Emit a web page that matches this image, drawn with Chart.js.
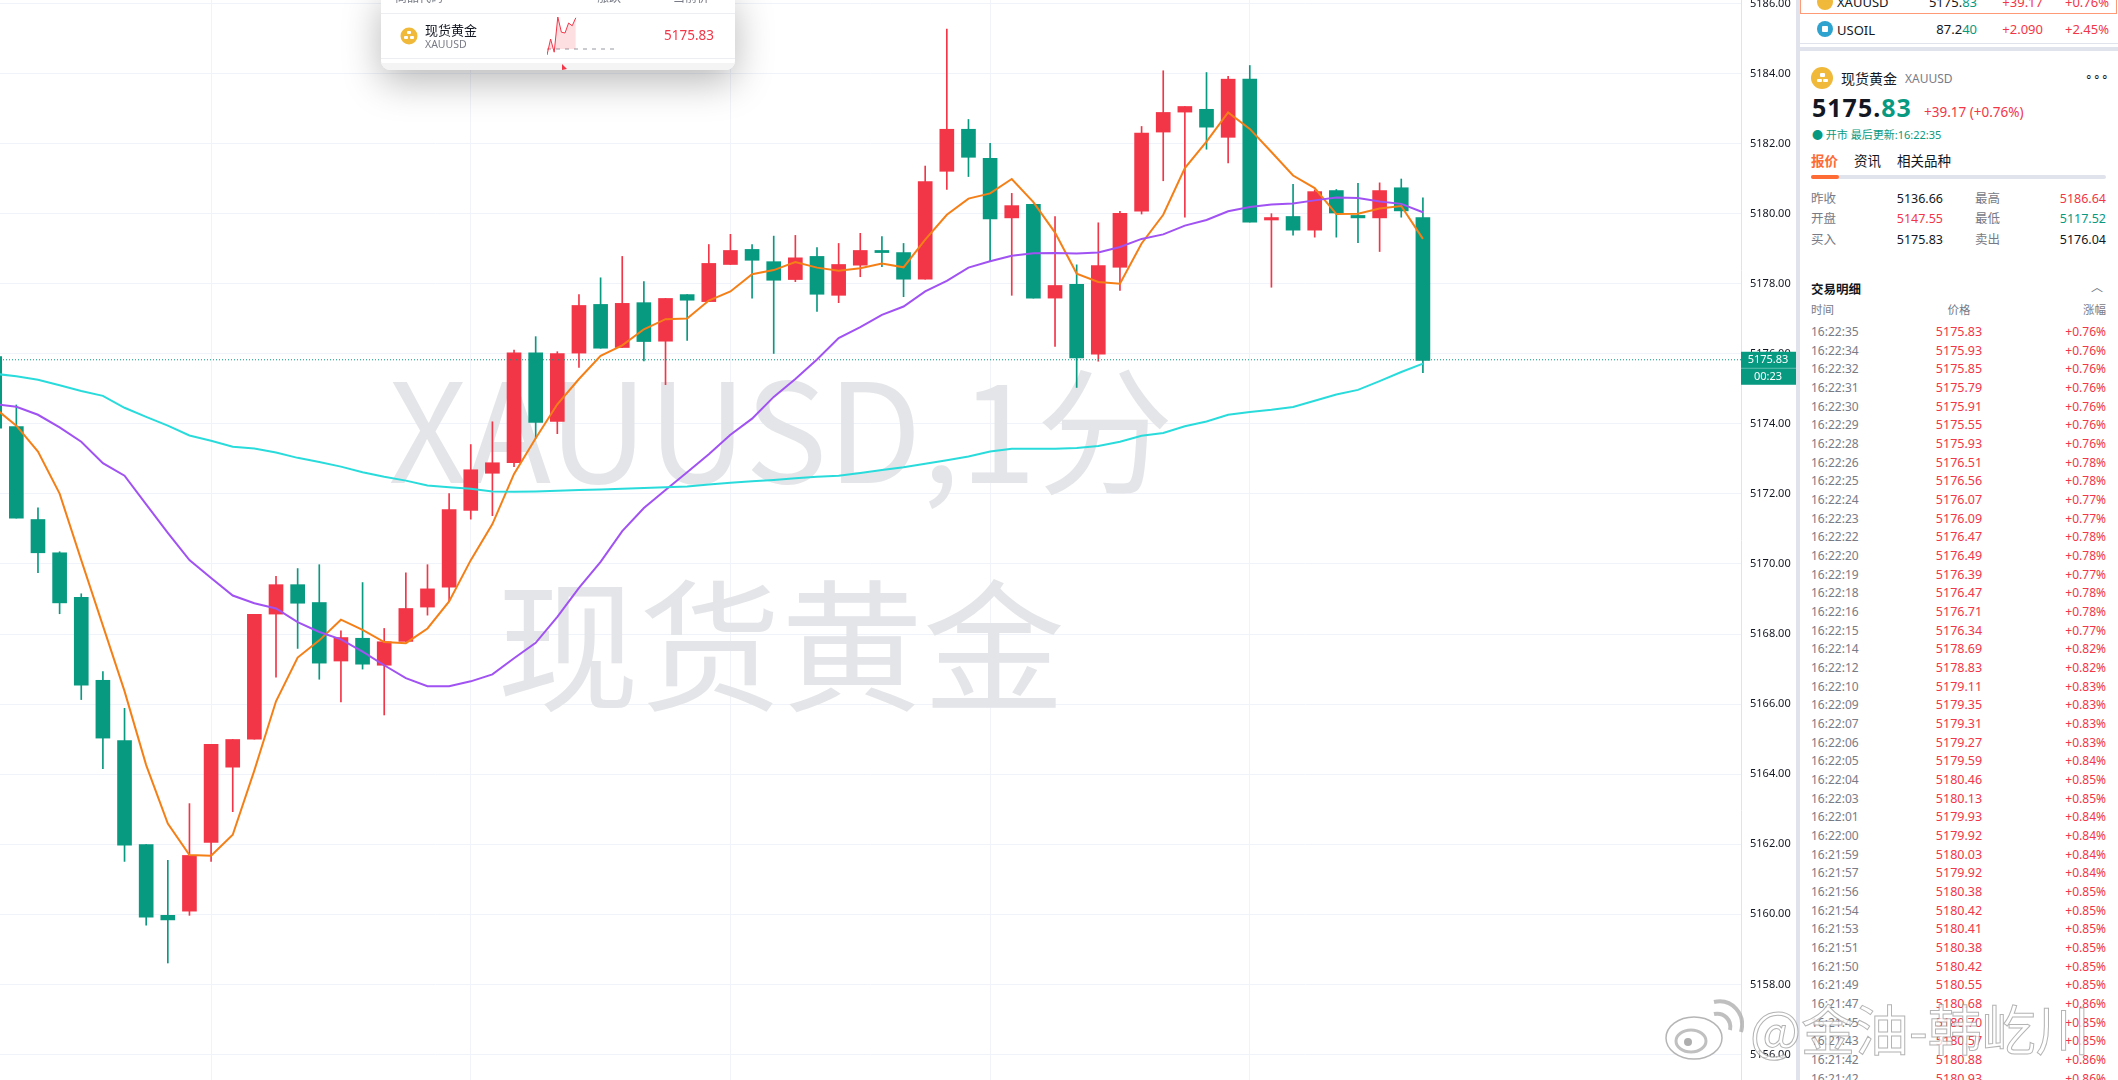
<!DOCTYPE html>
<html>
<head>
<meta charset="utf-8">
<title>XAUUSD</title>
<script src="https://cdn.jsdelivr.net/npm/chart.js@4"></script>
<style>
  html, body { margin: 0; padding: 0; background: #fff; overflow: hidden; }
  body { width: 2118px; height: 1080px; position: relative; font-family: "Noto Sans CJK SC", "Noto Sans", sans-serif; }
  #mainChart { position: absolute; left: 0; top: 0; }
  .t { position: absolute; white-space: nowrap; line-height: 1; transform: translateY(-50%); font-family: "Noto Sans", "Noto Sans CJK SC", sans-serif; }
  .r { transform: translate(-100%, -50%); }
  .c { transform: translate(-50%, -50%); }
  .red { color: #f23648; }
  .teal { color: #089981; }
  .grey { color: #787b86; }
  .dark { color: #131722; }
  .box { position: absolute; }
  .dot { position: absolute; border-radius: 50%; transform: translate(-50%, -50%); }
  .bar { position: absolute; background: #fff; border-radius: 1px; }
  #popup { position: absolute; left: 381px; top: -10px; width: 354px; height: 80px; background: #fff; border-radius: 0 0 9px 9px; box-shadow: 0 12px 38px rgba(0,0,0,.28); overflow: hidden; }
  #panel { position: absolute; left: 1796px; top: 0; width: 322px; height: 1080px; background: #fff; overflow: hidden; border-left: 4px solid #e0e3eb; box-sizing: border-box; }
  #sparkChart { position: absolute; left: 166px; top: 25px; }
  #stamp { position: absolute; left: 1750px; top: 1028px; font-size: 54px; line-height: 1; transform: translateY(-50%); white-space: nowrap; color: rgba(255,255,255,.78); -webkit-text-stroke: 1px rgba(140,140,140,.65); font-family: "Noto Sans CJK SC", sans-serif; }
</style>
</head>
<body>
<canvas id="mainChart" width="1796" height="1080"></canvas>

<!-- symbol popup at the top of the chart -->
<div id="popup">
  <div class="t grey" style="left:14px;top:8px;font-size:12px">商品代码</div>
  <div class="t grey" style="left:216px;top:8px;font-size:12px">涨跌</div>
  <div class="t grey" style="left:292px;top:8px;font-size:12px">当前价</div>
  <div class="box" style="left:0;top:23px;width:354px;height:1px;background:#eceef2"></div>
  <div class="dot" style="left:28px;top:46px;width:17px;height:17px;background:#f0b93a"></div>
  <div class="bar" style="left:26px;top:41px;width:4px;height:3px"></div>
  <div class="bar" style="left:23px;top:46px;width:4px;height:3px"></div>
  <div class="bar" style="left:29px;top:46px;width:4px;height:3px"></div>
  <div class="t dark" style="left:44px;top:40px;font-size:13px">现货黄金</div>
  <div class="t grey" style="left:44px;top:54px;font-size:10.5px">XAUUSD</div>
  <canvas id="sparkChart" width="72" height="42"></canvas>
  <div class="t r red" style="left:333px;top:46px;font-size:13.5px">5175.83</div>
  <div class="box" style="left:0;top:68px;width:354px;height:1px;background:#eceef2"></div>
  <div class="box" style="left:0;top:73px;width:354px;height:7px;background:#f4f4f5"></div>
  <div class="box" style="left:181px;top:74px;width:0;height:0;border-left:5px solid #f23648;border-top:5px solid transparent;border-bottom:1px solid transparent"></div>
</div>

<!-- quote panel on the right -->
<div id="panel"></div>

<div id="stamp">@金油-韩屹川</div>
<svg class="box" style="left:1664px;top:998px" width="80" height="64" viewBox="0 0 80 64">
  <ellipse cx="30" cy="40" rx="28" ry="21" fill="rgba(255,255,255,.8)" stroke="rgba(150,150,150,.7)" stroke-width="1.5"/>
  <ellipse cx="27" cy="43" rx="15" ry="11" fill="none" stroke="rgba(150,150,150,.6)" stroke-width="3"/>
  <circle cx="24" cy="44" r="4" fill="rgba(140,140,140,.7)"/>
  <path d="M50 16 C60 14 68 22 66 32" fill="none" stroke="rgba(170,170,170,.75)" stroke-width="4"/>
  <path d="M50 4 C68 0 82 16 77 34" fill="none" stroke="rgba(170,170,170,.75)" stroke-width="4"/>
</svg>

<script>
// Candles, one per minute, oldest first
const opens = [5175.92,5173.92,5171.27,5170.32,5169.05,5166.68,5164.96,5161.99,5159.97,5160.09,5162.05,5164.2,5165.0,5168.57,5169.41,5168.9,5167.23,5167.88,5167.11,5167.79,5168.77,5169.34,5171.53,5172.59,5172.89,5176.03,5174.07,5176.02,5177.41,5176.18,5177.46,5176.36,5177.69,5177.49,5178.55,5178.98,5178.63,5178.12,5178.78,5177.67,5178.53,5178.95,5178.89,5178.13,5181.21,5182.41,5181.58,5179.88,5180.27,5177.59,5177.98,5175.99,5178.47,5180.07,5182.33,5182.9,5182.98,5182.18,5183.84,5179.82,5179.92,5179.53,5180.66,5179.95,5179.88,5180.74,5179.89];
const highs = [5175.95,5174.54,5171.6,5170.35,5169.15,5166.93,5165.88,5161.99,5161.54,5163.16,5164.85,5164.99,5168.56,5169.65,5169.87,5169.98,5168.09,5169.47,5168.16,5169.75,5169.98,5172.01,5173.41,5174.06,5176.11,5176.49,5176.06,5177.69,5178.17,5178.78,5178.06,5177.58,5177.69,5179.12,5179.41,5179.12,5179.36,5179.38,5179.03,5179.15,5179.44,5179.35,5179.15,5181.36,5185.27,5182.69,5182.01,5180.58,5180.27,5179.92,5178.54,5179.74,5180.07,5182.49,5184.08,5183.06,5184.03,5183.92,5184.23,5180.0,5180.84,5180.68,5180.69,5180.87,5180.88,5180.99,5180.45];
const lows = [5173.88,5171.31,5169.75,5168.58,5166.13,5164.16,5161.51,5159.69,5158.61,5159.97,5161.51,5162.93,5165.0,5166.77,5167.59,5166.71,5166.06,5167.0,5165.69,5167.79,5168.54,5168.93,5171.28,5171.38,5172.78,5173.59,5173.72,5175.61,5176.16,5176.18,5175.8,5175.12,5176.38,5177.49,5178.55,5177.59,5176.01,5178.06,5177.21,5177.46,5178.2,5178.49,5177.63,5178.13,5180.69,5181.06,5178.64,5177.67,5177.59,5176.21,5175.04,5175.79,5177.81,5179.99,5180.94,5179.9,5181.84,5181.45,5179.76,5177.9,5179.39,5179.33,5179.33,5179.17,5178.92,5179.9,5175.46];
const closes = [5173.88,5171.31,5170.32,5168.89,5166.54,5165.03,5161.97,5159.92,5159.84,5161.68,5164.85,5164.99,5168.56,5169.41,5168.88,5167.17,5167.9,5167.14,5167.78,5168.73,5169.29,5171.55,5172.69,5172.89,5176.03,5174.04,5176.01,5177.38,5176.16,5177.44,5176.35,5177.58,5177.53,5178.58,5178.95,5178.67,5178.1,5178.74,5177.7,5178.55,5178.95,5178.89,5178.13,5180.92,5182.41,5181.61,5179.85,5180.23,5177.59,5177.95,5175.88,5178.52,5180.01,5182.3,5182.89,5183.06,5182.47,5183.84,5179.76,5179.89,5179.53,5180.63,5180.02,5179.88,5180.66,5180.08,5175.81];

// Moving averages
const maFast = [5174.45,5173.95,5173.21,5172.01,5170.11,5168.24,5166.37,5164.26,5162.59,5161.69,5161.67,5162.27,5164.11,5166.08,5167.33,5167.82,5168.41,5168.12,5167.77,5167.74,5168.16,5168.93,5170.11,5171.14,5172.57,5173.59,5174.56,5175.28,5175.94,5176.24,5176.7,5176.99,5177.01,5177.52,5177.78,5178.27,5178.39,5178.62,5178.46,5178.37,5178.44,5178.58,5178.47,5179.26,5179.97,5180.43,5180.58,5180.99,5180.33,5179.46,5178.29,5178.05,5178.0,5179.15,5179.97,5181.3,5182.06,5182.89,5182.42,5181.76,5181.09,5180.73,5179.99,5180.0,5180.15,5180.22,5179.28];
const maMid = [5174.56,5174.49,5174.26,5173.9,5173.49,5172.88,5172.52,5171.7,5170.89,5170.11,5169.6,5169.1,5168.88,5168.73,5168.34,5168.06,5167.85,5167.5,5167.11,5166.74,5166.51,5166.51,5166.65,5166.85,5167.31,5167.75,5168.49,5169.32,5170.06,5170.94,5171.6,5172.11,5172.62,5173.13,5173.69,5174.15,5174.77,5175.28,5175.84,5176.45,5176.76,5177.11,5177.35,5177.78,5178.08,5178.46,5178.64,5178.8,5178.87,5178.88,5178.86,5178.89,5179.05,5179.28,5179.41,5179.66,5179.82,5180.07,5180.19,5180.26,5180.29,5180.38,5180.46,5180.45,5180.35,5180.28,5180.04];
const maSlow = [5175.43,5175.36,5175.26,5175.1,5174.94,5174.8,5174.46,5174.2,5173.95,5173.67,5173.52,5173.35,5173.3,5173.18,5173.03,5172.91,5172.78,5172.62,5172.49,5172.38,5172.24,5172.19,5172.15,5172.07,5172.06,5172.07,5172.09,5172.11,5172.13,5172.15,5172.17,5172.19,5172.21,5172.27,5172.32,5172.36,5172.4,5172.45,5172.49,5172.52,5172.6,5172.68,5172.76,5172.86,5172.96,5173.07,5173.21,5173.29,5173.29,5173.29,5173.31,5173.37,5173.49,5173.66,5173.74,5173.93,5174.07,5174.26,5174.34,5174.4,5174.48,5174.66,5174.84,5174.97,5175.22,5175.48,5175.72];

const lastPrice = 5175.83;
const timeGridTicks = [10, 22, 34, 46, 58];

// Trade list on the right
const tradeTimes = ['16:22:35','16:22:34','16:22:32','16:22:31','16:22:30','16:22:29','16:22:28','16:22:26','16:22:25','16:22:24','16:22:23','16:22:22','16:22:20','16:22:19','16:22:18','16:22:16','16:22:15','16:22:14','16:22:12','16:22:10','16:22:09','16:22:07','16:22:06','16:22:05','16:22:04','16:22:03','16:22:01','16:22:00','16:21:59','16:21:57','16:21:56','16:21:54','16:21:53','16:21:51','16:21:50','16:21:49','16:21:47','16:21:45','16:21:43','16:21:42','16:21:42'];
const tradePrices = ['5175.83','5175.93','5175.85','5175.79','5175.91','5175.55','5175.93','5176.51','5176.56','5176.07','5176.09','5176.47','5176.49','5176.39','5176.47','5176.71','5176.34','5178.69','5178.83','5179.11','5179.35','5179.31','5179.27','5179.59','5180.46','5180.13','5179.93','5179.92','5180.03','5179.92','5180.38','5180.42','5180.41','5180.38','5180.42','5180.55','5180.68','5180.70','5180.57','5180.88','5180.93'];
const tradeChanges = ['+0.76%','+0.76%','+0.76%','+0.76%','+0.76%','+0.76%','+0.76%','+0.78%','+0.78%','+0.77%','+0.77%','+0.78%','+0.78%','+0.77%','+0.78%','+0.78%','+0.77%','+0.82%','+0.82%','+0.83%','+0.83%','+0.83%','+0.83%','+0.84%','+0.85%','+0.85%','+0.84%','+0.84%','+0.84%','+0.84%','+0.85%','+0.85%','+0.85%','+0.85%','+0.85%','+0.85%','+0.86%','+0.85%','+0.85%','+0.86%','+0.86%'];

// Little intraday line in the popup
const sparkValues = [0, 40, 7, 95, 57, 55, 80, 73, 93];
const sparkBase = 15;

const UP = '#f23648';
const DOWN = '#089981';
const candleColors = opens.map((o, i) => (closes[i] >= o ? UP : DOWN));
const candleIdx = opens.map((o, i) => i);

// Watermark goes under the candles
const watermarkPlugin = {
  id: 'watermark',
  beforeDatasetsDraw(chart) {
    const ctx = chart.ctx;
    ctx.save();
    ctx.fillStyle = '#e4e5e8';
    ctx.textAlign = 'center';
    ctx.textBaseline = 'middle';
    ctx.font = '138px "Noto Sans CJK SC"';
    ctx.fillText('XAUUSD,1分', 781, 431, 785);
    ctx.font = '142px "Noto Sans CJK SC"';
    ctx.fillText('现货黄金', 781, 646);
    ctx.restore();
  }
};

// Countdown tag on the price axis
const priceTagPlugin = {
  id: 'priceTag',
  afterDraw(chart) {
    const ctx = chart.ctx;
    const yScale = chart.scales.y;
    const y = yScale.getPixelForValue(lastPrice);
    ctx.save();
    ctx.fillStyle = DOWN;
    ctx.fillRect(yScale.left, y - 8, 55, 33);
    ctx.fillStyle = 'rgba(255,255,255,.35)';
    ctx.fillRect(yScale.left, y + 8, 55, 1);
    ctx.fillStyle = '#fff';
    ctx.textAlign = 'center';
    ctx.textBaseline = 'middle';
    ctx.font = '11px "Noto Sans"';
    ctx.fillText(lastPrice.toFixed(2), yScale.left + 27, y);
    ctx.fillText('00:23', yScale.left + 27, y + 17);
    ctx.restore();
  }
};

function lineSet(values, color) {
  return {
    type: 'line',
    data: values.map((v, i) => ({ x: candleIdx[i], y: v })),
    borderColor: color,
    borderWidth: 2,
    pointRadius: 0,
    tension: 0,
    order: 1
  };
}

function initializeMainChart() {
  const ctx = document.getElementById('mainChart').getContext('2d');
  const xMin = 0.245;
  const xMax = 80.7;

  new Chart(ctx, {
    type: 'bar',
    data: {
      datasets: [
        lineSet(maSlow, '#2adbdc'),
        lineSet(maMid, '#a052f2'),
        lineSet(maFast, '#f57f17'),
        {
          // dotted last price line
          type: 'line',
          data: [{ x: xMin, y: lastPrice }, { x: xMax, y: lastPrice }],
          borderColor: DOWN,
          borderWidth: 1,
          borderDash: [1, 2],
          pointRadius: 0,
          order: 2
        },
        {
          // candle bodies
          data: candleIdx.map(i => ({ x: i, y: [opens[i], closes[i]] })),
          backgroundColor: candleColors,
          borderWidth: 0,
          barThickness: 14,
          grouped: false,
          order: 3
        },
        {
          // wicks
          data: candleIdx.map(i => ({ x: i, y: [lows[i], highs[i]] })),
          backgroundColor: candleColors,
          borderWidth: 0,
          barThickness: 1,
          grouped: false,
          order: 4
        }
      ]
    },
    options: {
      responsive: false,
      animation: false,
      devicePixelRatio: 1,
      layout: { padding: 0 },
      plugins: { legend: { display: false }, tooltip: { enabled: false } },
      scales: {
        x: {
          type: 'linear',
          min: xMin,
          max: xMax,
          offset: false,
          // bar charts default to offset grid lines, keep them on the ticks
          grid: { color: '#f0f3fa', drawTicks: false, offset: false },
          border: { display: false },
          ticks: { display: false },
          afterBuildTicks(scale) {
            scale.ticks = timeGridTicks.map(v => ({ value: v }));
          },
          afterFit(scale) {
            scale.height = 0;
          }
        },
        y: {
          position: 'right',
          min: 5155.27,
          max: 5186.1,
          grid: { color: '#f0f3fa', drawTicks: false },
          border: { display: true, color: '#e0e3eb' },
          ticks: {
            stepSize: 2,
            includeBounds: false,
            autoSkip: false,
            padding: 9,
            color: '#131722',
            font: { family: '"Noto Sans"', size: 11 },
            callback: value => value.toFixed(2)
          },
          afterFit(scale) {
            scale.width = 55;
            scale.paddingTop = 0;
            scale.paddingBottom = 0;
          }
        }
      }
    },
    plugins: [watermarkPlugin, priceTagPlugin]
  });
}

function initializeSparkChart() {
  const ctx = document.getElementById('sparkChart').getContext('2d');
  const idx = sparkValues.map((v, i) => i);
  new Chart(ctx, {
    type: 'line',
    data: {
      datasets: [
        {
          data: idx.map(i => ({ x: i, y: sparkValues[i] })),
          borderColor: UP,
          backgroundColor: 'rgba(242,54,72,.16)',
          borderWidth: 1,
          pointRadius: 0,
          fill: { value: sparkBase }
        },
        {
          data: [{ x: 0, y: sparkBase }, { x: 20, y: sparkBase }],
          borderColor: '#9598a1',
          borderWidth: 1,
          borderDash: [4, 5],
          pointRadius: 0
        }
      ]
    },
    options: {
      responsive: false,
      animation: false,
      devicePixelRatio: 1,
      layout: { padding: 0 },
      plugins: { legend: { display: false }, tooltip: { enabled: false } },
      scales: {
        x: { type: 'linear', display: false, min: 0, max: 20 },
        y: { display: false, min: -5, max: 100 }
      }
    }
  });
}

// Helper for one absolutely placed text, x is page coordinate
function txt(x, y, size, cls, html, extra) {
  return `<div class="t ${cls}" style="left:${x - 1800}px;top:${y}px;font-size:${size}px;${extra || ''}">${html}</div>`;
}

// Three small bars inside the gold icon
function goldBars(cx, cy, s) {
  return `<div class="bar" style="left:${cx - s / 2}px;top:${cy - s}px;width:${s}px;height:${s * 0.7}px"></div>`
    + `<div class="bar" style="left:${cx - s - 0.5}px;top:${cy + 0.5}px;width:${s}px;height:${s * 0.7}px"></div>`
    + `<div class="bar" style="left:${cx + 0.5}px;top:${cy + 0.5}px;width:${s}px;height:${s * 0.7}px"></div>`;
}

function buildPanel() {
  let h = '';
  // watch list rows
  h += '<div class="box" style="left:0;top:-4px;width:317px;height:18px;border:1.5px solid #ff9a76;box-sizing:border-box"></div>';
  h += '<div class="dot" style="left:25px;top:2px;width:16px;height:16px;background:#f0b93a"></div>';
  h += txt(1837, 2, 13, 'dark', 'XAUUSD');
  h += txt(1977, 2, 13, 'r dark', '5175.<span class="teal">83</span>');
  h += txt(2043, 2, 13, 'r red', '+39.17');
  h += txt(2109, 2, 13, 'r red', '+0.76%');
  h += '<div class="dot" style="left:25px;top:29px;width:16px;height:16px;background:#2ea3cf"></div>';
  h += '<div class="box" style="left:22px;top:26px;width:6px;height:6px;background:#fff;border-radius:1px"></div>';
  h += txt(1837, 30, 13, 'dark', 'USOIL');
  h += txt(1977, 29, 13, 'r dark', '87.2<span class="teal">40</span>');
  h += txt(2043, 29, 13, 'r red', '+2.090');
  h += txt(2109, 29, 13, 'r red', '+2.45%');
  h += '<div class="box" style="left:0;top:43px;width:318px;height:1px;background:#e0e3eb"></div>';
  h += '<div class="box" style="left:0;top:47px;width:322px;height:4px;background:#e0e3eb"></div>';

  // symbol header
  h += '<div class="dot" style="left:22px;top:78px;width:22px;height:22px;background:#f0b93a"></div>';
  h += goldBars(22, 78, 5);
  h += txt(1841, 78, 14, 'dark', '现货黄金', 'font-family:\'Noto Sans CJK SC\'');
  h += txt(1905, 79, 12, 'grey', 'XAUUSD');
  h += txt(2085, 77, 12, 'dark', '∘∘∘', 'letter-spacing:0');
  h += txt(1812, 107, 25, 'dark', '5175.<span class="teal">83</span>', 'font-weight:700;letter-spacing:1px');
  h += txt(1924, 113, 13.5, 'red', '+39.17 (+0.76%)');
  h += txt(1812, 134, 11, 'teal', '● 开市 最后更新:16:22:35');

  // tabs
  h += txt(1811, 161, 13.5, '', '报价', 'color:#ff6b35;font-weight:700;font-family:\'Noto Sans CJK SC\'');
  h += txt(1854, 161, 13.5, 'dark', '资讯', 'font-family:\'Noto Sans CJK SC\'');
  h += txt(1897, 161, 13.5, 'dark', '相关品种', 'font-family:\'Noto Sans CJK SC\'');
  h += '<div class="box" style="left:11px;top:175px;width:295px;height:4px;background:#e0e3eb;border-radius:2px"></div>';
  h += '<div class="box" style="left:11px;top:175px;width:28px;height:4px;background:#ff6b35;border-radius:2px"></div>';

  // day stats
  h += txt(1811, 199, 12.5, 'grey', '昨收') + txt(1943, 199, 12.5, 'r dark', '5136.66');
  h += txt(1975, 199, 12.5, 'grey', '最高') + txt(2106, 199, 12.5, 'r red', '5186.64');
  h += txt(1811, 219, 12.5, 'grey', '开盘') + txt(1943, 219, 12.5, 'r red', '5147.55');
  h += txt(1975, 219, 12.5, 'grey', '最低') + txt(2106, 219, 12.5, 'r teal', '5117.52');
  h += txt(1811, 240, 12.5, 'grey', '买入') + txt(1943, 240, 12.5, 'r dark', '5175.83');
  h += txt(1975, 240, 12.5, 'grey', '卖出') + txt(2106, 240, 12.5, 'r dark', '5176.04');

  // trade list
  h += txt(1811, 289, 12.5, 'dark', '交易明细', 'font-weight:700;font-family:\'Noto Sans CJK SC\'');
  h += txt(2097, 288, 12, 'c grey', '︿');
  h += txt(1811, 310, 11.5, 'grey', '时间') + txt(1959, 310, 11.5, 'c grey', '价格') + txt(2106, 310, 11.5, 'r grey', '涨幅');
  tradeTimes.forEach((t, i) => {
    const y = 332 + i * 18.67;
    h += txt(1811, y, 12, 'grey', t);
    h += txt(1959, y, 12.5, 'c red', tradePrices[i]);
    h += txt(2106, y, 12, 'r red', tradeChanges[i]);
  });
  document.getElementById('panel').innerHTML = h;
}

buildPanel();
initializeMainChart();
initializeSparkChart();
</script>
</body>
</html>
